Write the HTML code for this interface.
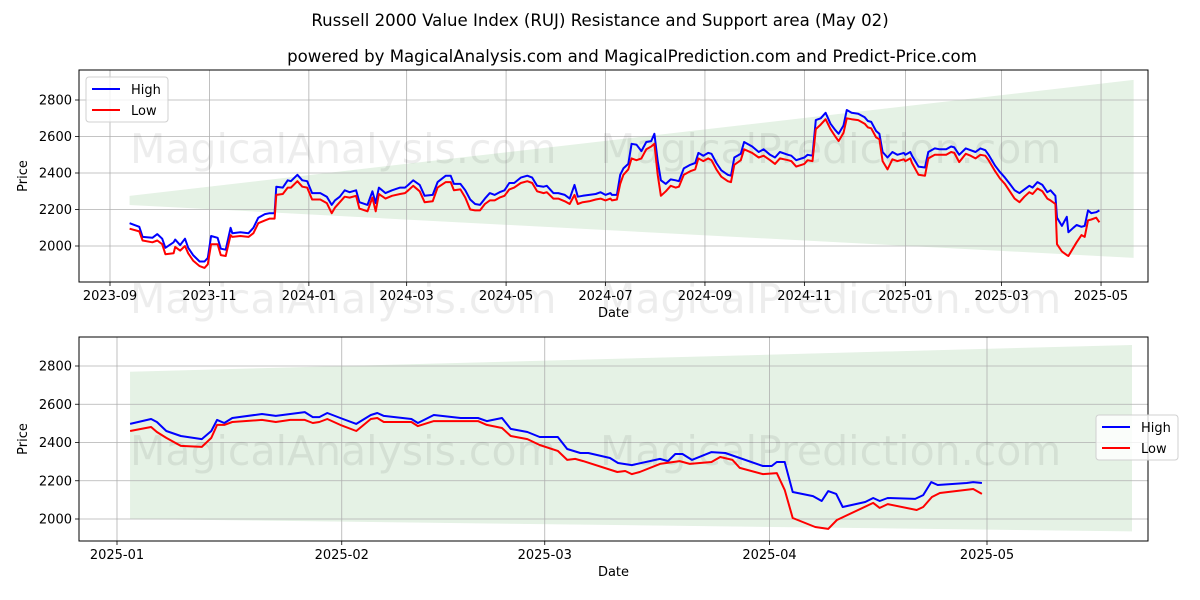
<!DOCTYPE html>
<html><head><meta charset="utf-8">
<style>
body{margin:0;background:#fff;}
svg{display:block;font-family:"DejaVu Sans","Liberation Sans",sans-serif;}
</style></head>
<body>
<svg id="fig" width="1200" height="600" viewBox="0 0 1200 600">
<rect width="1200" height="600" fill="#fff"/>
<text x="600" y="26" text-anchor="middle" font-size="16.6" fill="#000">Russell 2000 Value Index (RUJ) Resistance and Support area (May 02)</text>
<text x="632" y="62" text-anchor="middle" font-size="16.6" fill="#000">powered by MagicalAnalysis.com and MagicalPrediction.com and Predict-Price.com</text>
<g id="top"></g>
<g id="bot"></g>
</svg>
<script>
// ---- top chart data (day offsets from 2023-09-01) ----
const topDays=[12,18,20,26,29,32,34,39,40,43,46,48,51,55,58,60,62,66,68,71,74,75,80,85,88,91,95,98,101,102,106,109,111,115,118,121,124,129,133,136,138,141,144,147,151,153,158,161,163,165,169,173,178,181,183,186,190,193,198,201,206,209,211,215,218,221,224,227,230,233,236,239,242,245,248,252,256,259,262,266,268,272,275,279,282,285,287,290,294,298,301,304,307,308,311,313,315,318,320,323,326,329,332,334,336,338,341,344,347,349,352,356,359,361,364,367,369,372,375,379,381,383,387,389,394,398,401,405,408,411,416,418,421,426,428,431,433,436,439,442,445,447,450,452,455,459,463,465,467,470,472,474,477,480,483,487,488,491,492,496,500,502,506,509,513,516,518,521,525,528,531,534,537,539,543,546,549,552,555,558,561,564,566,569,572,575,577,580,581,584,587,588,591,593,596,598,600,602,605,607];
const topHigh=[2125,2105,2050,2045,2065,2040,1990,2020,2035,2005,2040,1990,1950,1915,1915,1935,2055,2045,1985,1980,2100,2070,2075,2070,2100,2155,2175,2180,2180,2325,2320,2360,2355,2390,2360,2355,2290,2290,2270,2225,2250,2270,2305,2295,2305,2240,2225,2300,2235,2320,2290,2305,2320,2320,2335,2360,2335,2275,2280,2350,2385,2385,2340,2340,2305,2255,2230,2225,2260,2290,2280,2295,2305,2345,2345,2375,2385,2375,2330,2325,2330,2290,2290,2280,2260,2335,2270,2275,2280,2285,2295,2280,2290,2280,2280,2390,2425,2450,2560,2555,2520,2570,2575,2615,2465,2360,2340,2365,2360,2355,2425,2445,2455,2510,2495,2510,2505,2455,2415,2390,2385,2485,2505,2570,2545,2515,2530,2500,2485,2515,2500,2495,2470,2485,2500,2495,2690,2700,2730,2670,2635,2615,2660,2745,2730,2725,2705,2685,2680,2630,2615,2515,2485,2515,2500,2510,2500,2515,2495,2435,2430,2515,2535,2530,2530,2545,2540,2500,2535,2525,2515,2535,2525,2500,2440,2405,2375,2340,2305,2290,2310,2330,2320,2350,2335,2295,2305,2275,2155,2110,2160,2075,2100,2115,2105,2110,2195,2180,2185,2195];
const topLow=[2095,2080,2030,2020,2030,2010,1955,1960,1995,1975,2000,1960,1920,1890,1880,1900,2010,2010,1950,1945,2060,2050,2055,2050,2070,2125,2140,2150,2150,2280,2285,2320,2320,2355,2325,2320,2255,2255,2235,2180,2210,2240,2270,2265,2275,2205,2190,2265,2190,2285,2260,2275,2285,2290,2305,2330,2300,2240,2245,2320,2350,2350,2305,2310,2265,2200,2195,2195,2230,2250,2250,2265,2275,2310,2320,2345,2355,2345,2300,2290,2295,2260,2260,2245,2230,2280,2230,2240,2245,2255,2260,2250,2260,2250,2255,2340,2390,2420,2480,2470,2480,2530,2545,2560,2390,2275,2300,2330,2320,2325,2390,2410,2420,2480,2465,2480,2470,2420,2380,2355,2350,2445,2470,2530,2510,2485,2495,2470,2450,2480,2470,2465,2435,2450,2470,2465,2640,2665,2695,2640,2600,2575,2620,2700,2695,2690,2670,2650,2645,2595,2585,2465,2420,2475,2465,2475,2465,2480,2455,2390,2385,2480,2500,2500,2500,2515,2510,2460,2505,2495,2480,2500,2495,2470,2410,2370,2340,2300,2260,2240,2270,2295,2285,2315,2300,2260,2250,2230,2010,1970,1950,1945,1990,2020,2060,2050,2140,2145,2155,2130];
const topBandDays=[12,628];
const topBandUpper=[2275,2910];
const topBandLower=[2225,1935];
const topYTicks=[2000,2200,2400,2600,2800];
const topXTickDays=[0,61,122,182,243,304,365,426,488,547,608];
const topXTickLabels=["2023-09","2023-11","2024-01","2024-03","2024-05","2024-07","2024-09","2024-11","2025-01","2025-03","2025-05"];
// ---- bottom chart data (day offsets from 2025-01-01) ----
const botHighDays=[1.8,4.7,5.5,6.8,8.8,11.7,13,13.8,14.8,15.9,20,21.9,23.9,25.9,27,27.9,29,30.8,33,35,35.9,36.8,40.6,41.5,43.7,47.4,49.8,51,53.1,54.3,56.6,58.3,60.8,62.1,63.9,65,68,69.1,71,74.9,76,77,78,79.3,82,83.9,89.1,90.3,91,92.1,93.2,96,97.2,98.1,99.2,100.1,103.2,104.3,105.2,106.3,110.1,111.2,112.3,113.2,117.2,118.1,119.3];
const botHigh=[2497,2523,2507,2460,2434,2418,2460,2518,2502,2528,2549,2539,2549,2559,2533,2533,2554,2528,2497,2544,2554,2539,2523,2502,2544,2528,2528,2512,2528,2471,2455,2429,2429,2366,2345,2345,2319,2293,2282,2314,2303,2340,2340,2309,2350,2345,2277,2277,2298,2298,2141,2120,2094,2146,2131,2063,2089,2110,2094,2110,2105,2125,2193,2178,2188,2193,2188];
const botLowDays=[1.8,4.7,5.5,6.8,8.8,11.7,13,13.8,14.8,15.9,20,21.9,23.9,25.9,27,27.9,29,30.8,33,35,35.9,36.8,40.6,41.5,43.7,47.4,49.8,51,53.1,54.3,56.6,58.3,60.8,62.1,63.2,64.3,69,70.1,71,72.1,74.9,77.6,79,82,83.2,84.9,85.9,89.1,91,92.1,93.2,96.3,98.1,99.3,104.3,105.2,106.3,110.3,111.2,112.4,113.5,118.1,119.3];
const botLow=[2460,2481,2455,2424,2382,2377,2424,2492,2492,2507,2518,2507,2518,2518,2502,2507,2523,2492,2460,2523,2528,2507,2507,2486,2512,2512,2512,2492,2476,2434,2418,2387,2356,2309,2314,2303,2246,2251,2235,2246,2288,2303,2288,2298,2324,2309,2267,2235,2240,2152,2005,1958,1948,1995,2084,2058,2078,2047,2063,2115,2136,2157,2131];
const botBandDays=[1.8,140];
const botBandUpper=[2770,2910];
const botBandLower=[2000,1935];
const botYTicks=[2000,2200,2400,2600,2800];
const botXTickDays=[0,31,59,90,120];
const botXTickLabels=["2025-01","2025-02","2025-03","2025-04","2025-05"];

const NS="http://www.w3.org/2000/svg";
function mk(parent,tag,attrs){const e=document.createElementNS(NS,tag);for(const k in attrs)e.setAttribute(k,attrs[k]);parent.appendChild(e);return e;}

function panel(g,box,xs,ys,d){
  const band=mk(g,'polygon',{points:[xs(d.bd[0])+','+ys(d.bu[0]),xs(d.bd[1])+','+ys(d.bu[1]),xs(d.bd[1])+','+ys(d.bl[1]),xs(d.bd[0])+','+ys(d.bl[0])].join(' '),fill:'#e5f2e5'});
  
  
  d.yt.forEach(v=>{
    const y=ys(v);
    const gl=mk(g,'line',{x1:box.l,x2:box.r,y1:y,y2:y,stroke:'#b0b0b0','stroke-width':0.8});
    
    
    mk(g,'line',{x1:box.l-4,x2:box.l,y1:y,y2:y,stroke:'#000','stroke-width':0.8});
    const t=mk(g,'text',{x:box.l-7,y:y+4.5,'text-anchor':'end','font-size':13});
    t.textContent=v;
    
    
  });
  d.xt.forEach((dd,i)=>{
    const x=xs(dd);
    const gl=mk(g,'line',{x1:x,x2:x,y1:box.t,y2:box.b,stroke:'#b0b0b0','stroke-width':0.8});
    
    
    mk(g,'line',{x1:x,x2:x,y1:box.b,y2:box.b+4,stroke:'#000','stroke-width':0.8});
    const t=mk(g,'text',{x:x,y:box.b+18,'text-anchor':'middle','font-size':13});
    t.textContent=d.xl[i];
    
    
  });
  d.wm.forEach(w=>{
    const t=mk(g,'text',{x:w[0],y:w[1],'font-size':41,fill:'#000','fill-opacity':0.07});
    t.textContent=w[2];
    
    
  });
  const hp=d.hd.map((v,i)=>xs(v).toFixed(1)+','+ys(d.h[i]).toFixed(1)).join(' ');
  const lp=d.ld.map((v,i)=>xs(v).toFixed(1)+','+ys(d.lo[i]).toFixed(1)).join(' ');
  const hl=mk(g,'polyline',{points:hp,fill:'none',stroke:'#0000ff','stroke-width':2,'stroke-linejoin':'round'});
  
  
  const ll=mk(g,'polyline',{points:lp,fill:'none',stroke:'#ff0000','stroke-width':2,'stroke-linejoin':'round'});
  
  
  const fr=mk(g,'rect',{x:box.l,y:box.t,width:box.r-box.l,height:box.b-box.t,fill:'none',stroke:'#000','stroke-width':1});
  
  
  const xl=mk(g,'text',{x:(box.l+box.r)/2,y:box.b+35,'text-anchor':'middle','font-size':13});
  xl.textContent='Date';
  
  
  const cy=(box.t+box.b)/2;
  const yl=mk(g,'text',{x:27,y:cy,'text-anchor':'middle','font-size':13,transform:'rotate(-90 27 '+cy+')'});
  yl.textContent='Price';
  
  
  const L=d.leg;
  const lg=mk(g,'g',{});
  
  
  mk(lg,'rect',{x:L[0],y:L[1],width:82,height:45,rx:3,fill:'#fff','fill-opacity':0.8,stroke:'#d0d0d0'});
  mk(lg,'line',{x1:L[0]+6,x2:L[0]+34,y1:L[1]+12,y2:L[1]+12,stroke:'#0000ff','stroke-width':2});
  const t1=mk(lg,'text',{x:L[0]+45,y:L[1]+17,'font-size':13});t1.textContent='High';
  
  
  mk(lg,'line',{x1:L[0]+6,x2:L[0]+34,y1:L[1]+33,y2:L[1]+33,stroke:'#ff0000','stroke-width':2});
  const t2=mk(lg,'text',{x:L[0]+45,y:L[1]+38,'font-size':13});t2.textContent='Low';
  
  
}

const tb={l:79,r:1148,t:70,b:282};
panel(document.getElementById('top'),tb,d=>110+d*1.63,v=>246-(v-2000)*0.1825,
 {bd:topBandDays,bu:topBandUpper,bl:topBandLower,yt:topYTicks,xt:topXTickDays,xl:topXTickLabels,
  hd:topDays,h:topHigh,ld:topDays,lo:topLow,leg:[86,77],
  wm:[[130,163,'MagicalAnalysis.com'],[600,163,'MagicalPrediction.com'],[130,313,'MagicalAnalysis.com'],[600,313,'MagicalPrediction.com']]});
const bb={l:79,r:1148,t:337,b:541};
panel(document.getElementById('bot'),bb,d=>117+d*7.25,v=>519-(v-2000)*0.19125,
 {bd:botBandDays,bu:botBandUpper,bl:botBandLower,yt:botYTicks,xt:botXTickDays,xl:botXTickLabels,
  hd:botHighDays,h:botHigh,ld:botLowDays,lo:botLow,leg:[1096,415],
  wm:[[130,465,'MagicalAnalysis.com'],[600,465,'MagicalPrediction.com']]});
</script>
</body></html>
